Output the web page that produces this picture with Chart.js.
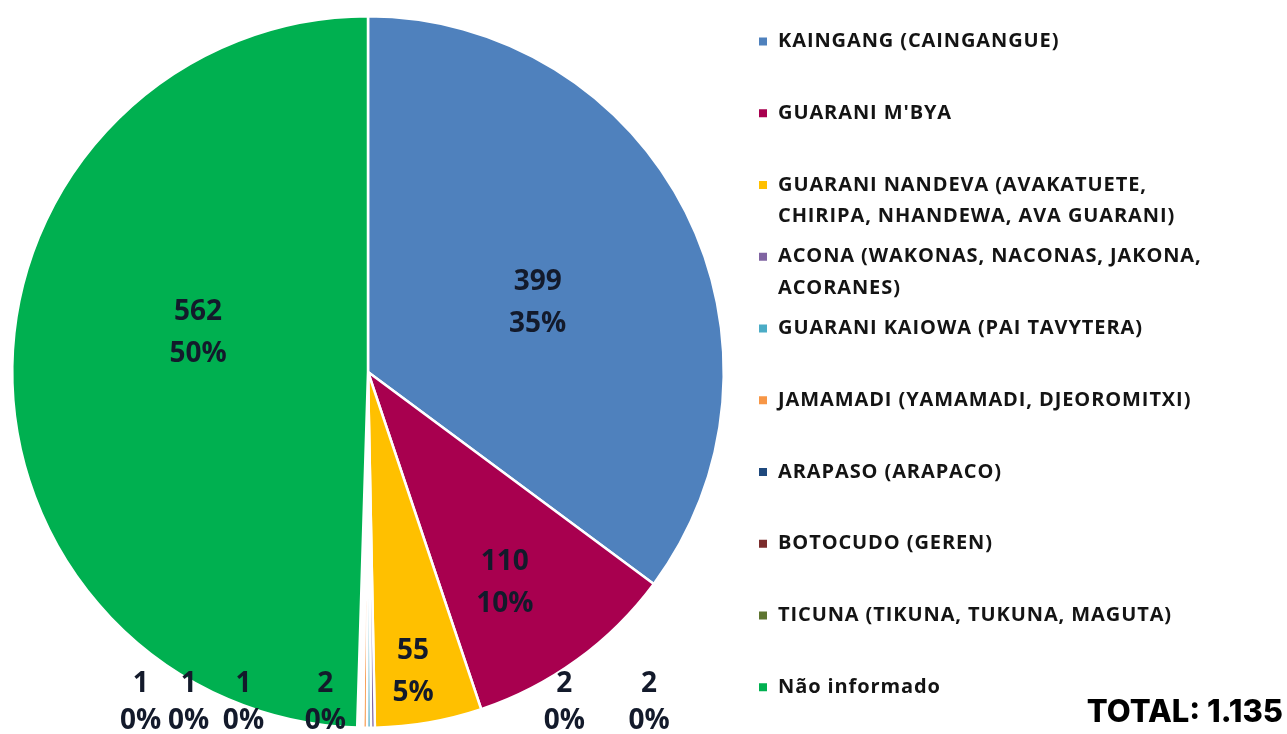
<!DOCTYPE html>
<html>
<head>
<meta charset="utf-8">
<script src="https://cdn.jsdelivr.net/npm/chart.js@4.4.1/dist/chart.umd.min.js"></script>
<style>
  html, body { margin: 0; padding: 0; background: #fff; }
  #wrap { position: relative; width: 1287px; height: 734px; }
</style>
</head>
<body>
<div id="wrap"><canvas id="pie" width="1287" height="734"></canvas></div>
<script>
// dados
const categories = [
  'KAINGANG (CAINGANGUE)',
  "GUARANI M'BYA",
  ['GUARANI NANDEVA (AVAKATUETE,', 'CHIRIPA, NHANDEWA, AVA GUARANI)'],
  ['ACONA (WAKONAS, NACONAS, JAKONA,', 'ACORANES)'],
  'GUARANI KAIOWA (PAI TAVYTERA)',
  'JAMAMADI (YAMAMADI, DJEOROMITXI)',
  'ARAPASO (ARAPACO)',
  'BOTOCUDO (GEREN)',
  'TICUNA (TIKUNA, TUKUNA, MAGUTA)',
  'Não informado'
];
const counts = [399, 110, 55, 2, 2, 2, 1, 1, 1, 562];
const colors = ['#4F81BD', '#A8004F', '#FFC000', '#8064A2', '#4BACC6',
                '#F79646', '#1F497D', '#7B2C2C', '#5E7530', '#00B050'];
const totalText = 'TOTAL: 1.135';

// onde ficam os rótulos (dentro: fração do raio + giro; fora: deslocamento em raios)
const labelSpots = [
  { f: 0.515, turn: 4.6 },
  { f: 0.706, turn: 3 },
  { f: 0.853, turn: 1.3 },
  { dx: 0.552, dy: 0.93 },
  { dx: 0.79, dy: 0.93 },
  { dx: -0.12, dy: 0.93 },
  { dx: -0.35, dy: 0.93 },
  { dx: -0.504, dy: 0.93 },
  { dx: -0.639, dy: 0.93 },
  { f: 0.49, turn: 12 }
];

const total = counts.reduce((a, b) => a + b, 0);

// rótulos com valor e percentual
const sliceLabels = {
  id: 'sliceLabels',
  afterDatasetsDraw(chart) {
    const ctx = chart.ctx;
    const meta = chart.getDatasetMeta(0);
    ctx.save();
    ctx.font = 'bold 28px "Open Sans"';
    ctx.fillStyle = '#131a2b';
    ctx.textAlign = 'center';
    ctx.textBaseline = 'middle';
    meta.data.forEach((arc, i) => {
      const p = arc.getProps(['x', 'y', 'startAngle', 'endAngle', 'outerRadius'], true);
      const spot = labelSpots[i];
      let px, py, gap;
      if (spot.dx !== undefined) {
        px = p.x + spot.dx * p.outerRadius;
        py = p.y + spot.dy * p.outerRadius;
        gap = 37;
      } else {
        const a = (p.startAngle + p.endAngle) / 2 + spot.turn * Math.PI / 180;
        px = p.x + Math.cos(a) * p.outerRadius * spot.f;
        py = p.y + Math.sin(a) * p.outerRadius * spot.f;
        gap = 42;
      }
      const pct = Math.round(counts[i] / total * 100) + '%';
      ctx.fillText(String(counts[i]), px, py - gap / 2);
      ctx.fillText(pct, px, py + gap / 2);
    });
    ctx.restore();
  }
};

// legenda à direita + total
const sideLegend = {
  id: 'sideLegend',
  afterDraw(chart) {
    const ctx = chart.ctx;
    ctx.save();
    ctx.textAlign = 'left';
    ctx.textBaseline = 'middle';
    ctx.font = 'bold 20px "Open Sans"';
    ctx.letterSpacing = '0.9px';
    categories.forEach((lab, i) => {
      const y = 41.5 + i * 71.75;
      ctx.fillStyle = colors[i];
      ctx.fillRect(759, y - 4, 8, 8);
      ctx.fillStyle = '#141414';
      const lines = Array.isArray(lab) ? lab : [lab];
      lines.forEach((t, k) => ctx.fillText(t, 778, y + k * 31.5));
    });
    ctx.letterSpacing = '0px';
    ctx.font = '800 31px Inter';
    ctx.fillStyle = '#000';
    ctx.textAlign = 'right';
    ctx.fillText(totalText, 1283, 713);
    ctx.restore();
  }
};

document.addEventListener('DOMContentLoaded', () => {
  new Chart(document.getElementById('pie'), {
    type: 'pie',
    data: {
      labels: categories,
      datasets: [{
        data: counts,
        backgroundColor: colors,
        borderColor: '#ffffff',
        borderWidth: 2.5
      }]
    },
    options: {
      responsive: false,
      animation: false,
      layout: { padding: { left: 11, right: 562, top: 15, bottom: 5 } },
      plugins: {
        legend: { display: false },
        tooltip: { enabled: false }
      }
    },
    plugins: [sliceLabels, sideLegend]
  });
});
</script>
</body>
</html>
